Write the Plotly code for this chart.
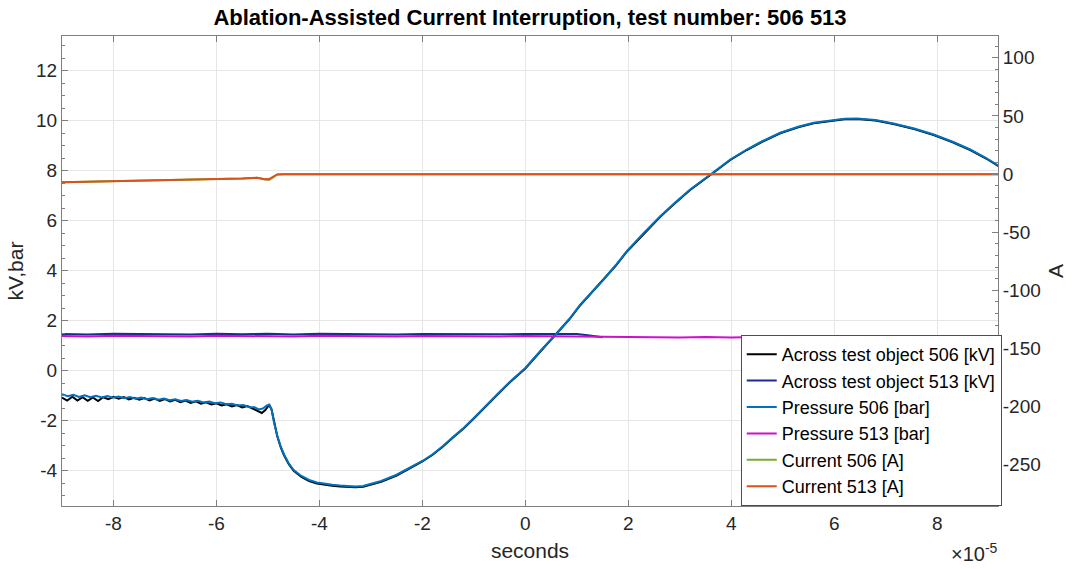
import plotly.graph_objects as go

# time axis values are in units of 1e-5 seconds (axis shows x10^-5)
# ---- Across test object 506 [kV] (black)
v506_t = [-9.00, -8.90, -8.80, -8.70, -8.60, -8.50, -8.40, -8.30, -8.20, -8.10,
          -8.00, -7.90, -7.80, -7.70, -7.60, -7.50, -7.40, -7.30, -7.20, -7.10,
          -7.00, -6.90, -6.80, -6.70, -6.60, -6.50, -6.40, -6.30, -6.20, -6.10,
          -6.00, -5.90, -5.80, -5.70, -5.60, -5.50, -5.40, -5.30, -5.20, -5.12,
          -5.05, -4.98, -4.93, -4.88, -4.82, -4.75, -4.69, -4.60, -4.50, -4.35,
          -4.20, -4.05, -3.90, -3.75, -3.60, -3.45, -3.30, -3.15, -3.00, -2.80,
          -2.50, -2.20, -2.00, -1.80, -1.60, -1.40, -1.20, -1.00, -0.80, -0.55,
          -0.30, 0.00, 0.30, 0.62, 0.85, 1.07, 1.30, 1.52, 1.75, 1.97,
          2.30, 2.62, 2.90, 3.20, 3.62, 3.98, 4.30, 4.60, 4.95, 5.30,
          5.60, 5.92, 6.20, 6.44, 6.80, 7.15, 7.55, 7.93, 8.30, 8.64,
          8.95, 9.20]
v506_kv = [-1.08, -1.20, -1.05, -1.20, -1.07, -1.21, -1.08, -1.22, -1.07, -1.15,
           -1.05, -1.13, -1.06, -1.16, -1.09, -1.17, -1.10, -1.20, -1.12, -1.22,
           -1.14, -1.24, -1.17, -1.27, -1.20, -1.30, -1.23, -1.33, -1.27, -1.36,
           -1.31, -1.40, -1.35, -1.44, -1.38, -1.48, -1.42, -1.52, -1.62, -1.70,
           -1.58, -1.38, -1.55, -2.10, -2.62, -3.08, -3.38, -3.73, -4.01, -4.26,
           -4.42, -4.52, -4.58, -4.61, -4.64, -4.66, -4.67, -4.65, -4.57, -4.45,
           -4.20, -3.88, -3.64, -3.37, -3.04, -2.67, -2.32, -1.92, -1.52, -0.98,
           -0.47, 0.08, 0.78, 1.50, 2.04, 2.62, 3.14, 3.62, 4.18, 4.75,
           5.48, 6.15, 6.68, 7.22, 7.86, 8.42, 8.82, 9.15, 9.49, 9.73,
           9.89, 9.99, 10.05, 10.06, 10.00, 9.86, 9.66, 9.42, 9.13, 8.82,
           8.48, 8.16]

# ---- Across test object 513 [kV] (dark blue)
v513_t = [-9.00, -8.50, -8.00, -7.50, -7.00, -6.50, -6.00, -5.50, -5.00, -4.50,
          -4.00, -3.50, -3.00, -2.50, -2.00, -1.50, -1.00, -0.50, 0.00, 0.50,
          1.00, 1.25, 1.50]
v513_kv = [1.46, 1.44, 1.47, 1.45, 1.46, 1.44, 1.47, 1.45, 1.47, 1.44,
           1.47, 1.45, 1.46, 1.44, 1.46, 1.45, 1.47, 1.45, 1.46, 1.45,
           1.46, 1.40, 1.33]

# ---- Pressure 506 [bar] (light blue)
p506_t = [-9.00, -8.89, -8.78, -8.67, -8.56, -8.45, -8.34, -8.23, -8.12, -8.01,
          -7.90, -7.79, -7.68, -7.57, -7.46, -7.35, -7.24, -7.13, -7.02, -6.91,
          -6.80, -6.69, -6.58, -6.47, -6.36, -6.25, -6.14, -6.03, -5.92, -5.81,
          -5.70, -5.59, -5.48, -5.37, -5.26, -5.18, -5.10, -5.02, -4.97, -4.93,
          -4.88, -4.82, -4.75, -4.69, -4.60, -4.50, -4.35, -4.20, -4.05, -3.90,
          -3.75, -3.60, -3.45, -3.30, -3.15, -3.00, -2.80, -2.50, -2.20, -2.00,
          -1.80, -1.60, -1.40, -1.20, -1.00, -0.80, -0.55, -0.30, 0.00, 0.30,
          0.62, 0.85, 1.07, 1.30, 1.52, 1.75, 1.97, 2.30, 2.62, 2.90,
          3.20, 3.62, 3.98, 4.30, 4.60, 4.95, 5.30, 5.60, 5.92, 6.20,
          6.44, 6.80, 7.15, 7.55, 7.93, 8.30, 8.64, 8.95, 9.20]
p506_bar = [-0.95, -1.03, -0.97, -1.06, -0.99, -1.07, -1.01, -1.08, -1.02, -1.09,
            -1.04, -1.11, -1.06, -1.13, -1.08, -1.15, -1.10, -1.17, -1.12, -1.19,
            -1.15, -1.22, -1.18, -1.25, -1.21, -1.28, -1.24, -1.31, -1.28, -1.35,
            -1.33, -1.40, -1.38, -1.46, -1.47, -1.56, -1.52, -1.40, -1.37, -1.55,
            -2.10, -2.60, -3.05, -3.35, -3.70, -3.98, -4.22, -4.38, -4.48, -4.54,
            -4.57, -4.60, -4.62, -4.64, -4.62, -4.54, -4.42, -4.17, -3.85, -3.62,
            -3.35, -3.02, -2.65, -2.30, -1.90, -1.50, -0.96, -0.45, 0.10, 0.80,
            1.50, 2.05, 2.64, 3.15, 3.64, 4.20, 4.77, 5.50, 6.17, 6.70,
            7.24, 7.88, 8.44, 8.84, 9.17, 9.51, 9.75, 9.91, 10.01, 10.07,
            10.08, 10.02, 9.88, 9.68, 9.44, 9.15, 8.84, 8.50, 8.18]

# ---- Pressure 513 [bar] (magenta)
p513_t = [-9.00, -8.50, -8.00, -7.50, -7.00, -6.50, -6.00, -5.50, -5.00, -4.50,
          -4.00, -3.50, -3.00, -2.50, -2.00, -1.50, -1.00, -0.50, 0.00, 0.50,
          1.00, 1.50, 2.00, 2.50, 3.00, 3.50, 4.00, 4.50, 5.00, 5.50,
          6.00, 6.50, 7.00, 7.50, 8.00, 8.50, 9.00, 9.20]
p513_bar = [1.38, 1.36, 1.39, 1.37, 1.38, 1.36, 1.39, 1.37, 1.38, 1.36,
            1.39, 1.37, 1.38, 1.36, 1.38, 1.37, 1.38, 1.36, 1.38, 1.37,
            1.36, 1.34, 1.32, 1.34, 1.32, 1.34, 1.32, 1.34, 1.32, 1.34,
            1.32, 1.34, 1.32, 1.34, 1.32, 1.34, 1.32, 1.33]

# ---- Current 506 [A] (green)
i506_t = [-9.00, -8.00, -7.00, -6.00, -5.50, -5.21, -5.12, -5.05, -4.98, -4.90,
          -4.82, -4.70, -3.00, 0.00, 3.00, 6.00, 9.20]
i506_a = [-7.0, -6.2, -5.3, -4.4, -3.9, -3.3, -4.2, -5.0, -5.2, -3.0,
          -0.4, -0.3, -0.3, -0.3, -0.3, -0.3, -0.3]

# ---- Current 513 [A] (orange)
i513_t = [-9.00, -8.00, -7.00, -6.00, -5.50, -5.21, -5.12, -5.05, -4.98, -4.90,
          -4.82, -4.70, -3.00, 0.00, 3.00, 6.00, 9.20]
i513_a = [-7.0, -6.2, -5.3, -4.4, -3.9, -3.2, -4.0, -4.6, -4.3, -2.5,
          -0.4, -0.3, -0.3, -0.3, -0.3, -0.3, -0.3]

names = ["Across test object 506 [kV]", "Across test object 513 [kV]",
         "Pressure 506 [bar]", "Pressure 513 [bar]",
         "Current 506 [A]", "Current 513 [A]"]
colors = ["#000000", "#1c2b8f", "#0072BD", "#cc11cc", "#77AC30", "#D95319"]

x_ticks = [-8, -6, -4, -2, 0, 2, 4, 6, 8]
y_ticks = [-4, -2, 0, 2, 4, 6, 8, 10, 12]
y2_ticks = [-250, -200, -150, -100, -50, 0, 50, 100]

FONT = "Liberation Sans, Arial, Helvetica, sans-serif"
TXT = "#262626"
AX = "#7f7f7f"

fig = go.Figure()
series = [(v506_t, v506_kv, "y"), (v513_t, v513_kv, "y"),
          (p506_t, p506_bar, "y"), (p513_t, p513_bar, "y"),
          (i506_t, i506_a, "y2"), (i513_t, i513_a, "y2")]
for (t, v, ax), n, c in zip(series, names, colors):
    fig.add_trace(go.Scatter(x=t, y=v, mode="lines", name=n, yaxis=ax,
                             line=dict(color=c, width=2)))

fig.update_layout(
    width=1075, height=569,
    margin=dict(l=62, r=77, t=36, b=63),
    paper_bgcolor="white", plot_bgcolor="white",
    font=dict(family=FONT, size=19, color=TXT),
    title=dict(text="<b>Ablation-Assisted Current Interruption, test number: 506 513</b>",
               x=0.5, xref="paper", xanchor="center",
               y=1 - 17 / 569, yref="container", yanchor="middle",
               font=dict(size=22, color="#000000")),
    xaxis=dict(range=[-9.0, 9.18], tickvals=x_ticks,
               ticktext=[str(v) for v in x_ticks],
               ticks="inside", ticklen=6, tickcolor=AX,
               showline=True, linecolor=AX, linewidth=1, mirror="ticks",
               showgrid=True, gridcolor="#e6e6e6", gridwidth=1, zeroline=False,
               title=dict(text="seconds", standoff=10, font=dict(size=21))),
    yaxis=dict(range=[-5.42, 13.38], tickvals=y_ticks,
               ticktext=[str(v) for v in y_ticks],
               ticks="inside", ticklen=6, tickcolor=AX,
               minor=dict(dtick=0.5, tick0=0, ticks="inside", ticklen=3,
                          tickcolor=AX, showgrid=False),
               showline=True, linecolor=AX, linewidth=1, mirror=False,
               showgrid=True, gridcolor="#e6e6e6", gridwidth=1, zeroline=False,
               title=dict(text="kV,bar", standoff=6, font=dict(size=21))),
    yaxis2=dict(range=[-285.5, 118.7], overlaying="y", side="right",
                tickvals=y2_ticks, ticktext=[str(v) for v in y2_ticks],
                ticks="inside", ticklen=6, tickcolor=AX,
                minor=dict(dtick=10, tick0=0, ticks="inside", ticklen=3,
                           tickcolor=AX, showgrid=False),
                showline=True, linecolor=AX, linewidth=1,
                showgrid=False, zeroline=False,
                title=dict(text="A", standoff=8, font=dict(size=21))),
    legend=dict(x=1.004, y=0.0, xref="paper", yref="paper",
                xanchor="right", yanchor="bottom",
                bgcolor="white", bordercolor="#4d4d4d", borderwidth=1,
                font=dict(size=18, color="#000000"),
                tracegroupgap=0, itemwidth=30),
    showlegend=True,
    annotations=[dict(text="×10<sup>-5</sup>", xref="paper", yref="paper",
                      x=1.002, y=-0.098, xanchor="right", yanchor="middle",
                      showarrow=False, font=dict(size=20, color=TXT))],
)

fig.write_html("out.html")
